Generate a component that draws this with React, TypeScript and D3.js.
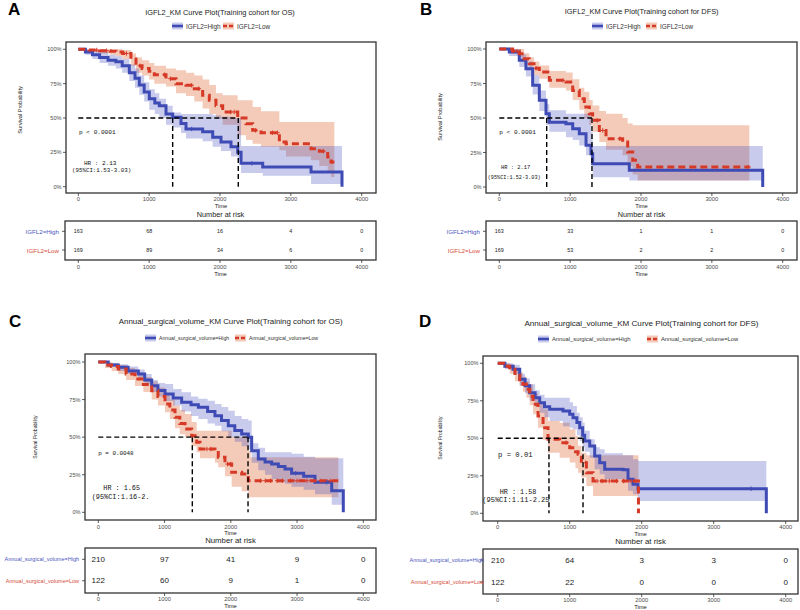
import React from "react";
import * as d3 from "d3";

type Row = [number, number, number, number]; // time, surv %, lower %, upper %

// ---------- Panel A: IGFL2 OS ----------
const A_HIGH: Row[] = [
  [0, 100, 100, 100], [100, 98, 96, 100], [200, 96, 93, 99], [300, 94, 90, 98],
  [420, 92, 88, 96], [530, 91, 86, 95], [620, 88, 83, 93], [720, 83, 77, 89],
  [800, 79, 72, 86], [861, 74, 67, 81], [930, 69, 62, 76], [1002, 64, 56, 71],
  [1080, 61, 53, 68], [1143, 59, 50, 64], [1238, 53, 45, 59], [1332, 50.5, 43, 54],
  [1449, 46, 39, 53], [1520, 42, 35, 53], [1755, 40, 33, 53], [1897, 36, 29, 52],
  [2014, 32.5, 26, 51], [2155, 29, 22, 50], [2250, 25, 19, 50], [2297, 17, 10, 29.6],
  [2603, 14.3, 8, 29.6], [3285, 10.7, 2, 29.6], [3722, 0, 2, 29.6],
];
const A_LOW: Row[] = [
  [0, 100, 100, 100], [150, 99.5, 98, 100], [300, 99, 97, 100], [450, 98.5, 96, 100],
  [532, 98, 95, 100], [626, 97, 93, 99.5], [743, 93, 88, 97], [814, 88, 83, 94],
  [900, 86, 81, 92], [1000, 84, 78, 90], [1073, 81.5, 75, 88], [1238, 78.6, 73, 86],
  [1379, 75, 68, 84.7], [1520, 73.8, 66, 83], [1637, 71.3, 62, 81], [1755, 66.5, 57, 78],
  [1849, 62.9, 53, 74], [1943, 59, 49.5, 68], [2038, 54.4, 45, 66.5], [2250, 50, 37.4, 63],
  [2367, 45.9, 34, 63], [2461, 41, 31.3, 58], [2579, 39.3, 29, 55], [2838, 32.5, 26.5, 47],
  [2932, 31.3, 22, 47], [3285, 27.7, 19.2, 47], [3402, 25.8, 15, 47], [3520, 21.6, 10, 47],
  [3567, 18, 7, 47], [3614, 18, 7, 47],
];
const A_HIGH_CENSOR: number[] = [1600, 2450];
const A_LOW_CENSOR: number[] = [260, 400, 680, 870, 1220, 1300, 1600, 1700, 2150, 2200, 2500, 2740, 2810, 3460, 3580];
const A_RISK_HIGH = [163, 68, 16, 4, 0];
const A_RISK_LOW = [169, 89, 34, 6, 0];
const A_MEDIANS = [1332, 2258];

// ---------- Panel B: IGFL2 DFS ----------
const B_HIGH: Row[] = [
  [0, 100, 100, 100], [141, 97.8, 95, 100], [282, 91.8, 87, 96], [376, 85.7, 80, 91],
  [471, 73.7, 67, 81], [565, 62.8, 55, 70], [659, 53, 45, 60], [706, 47, 40, 55.6],
  [941, 45.9, 36, 53], [1036, 42.3, 34, 53], [1129, 38.6, 30, 53], [1224, 30.2, 23, 53],
  [1294, 24.1, 16, 40], [1318, 16.9, 7, 29.7], [1835, 12.1, 4.8, 29.7], [3718, 0, 4.8, 29.7],
];
const B_LOW: Row[] = [
  [0, 100, 100, 100], [188, 98.5, 97, 100], [282, 96.6, 94, 100], [350, 93, 89, 97],
  [423, 89.3, 85, 94], [490, 86, 81, 91], [565, 83.3, 78.5, 88], [706, 77.3, 72, 84],
  [941, 76, 70, 83], [1036, 70, 63, 78], [1129, 64, 56, 72], [1200, 58, 50, 69],
  [1271, 53, 45, 63], [1318, 48.3, 40, 59], [1412, 41, 32.6, 55], [1506, 35, 27, 53],
  [1741, 32.6, 23, 50], [1812, 25.4, 15, 46], [1883, 19.3, 9, 44.7], [1953, 14.5, 4.8, 44.7],
  [3529, 14.5, 4.8, 44.7],
];
const B_HIGH_CENSOR: number[] = [];
const B_LOW_CENSOR: number[] = [200, 250, 520, 900, 1380, 1460, 1700, 3520];
const B_RISK_HIGH = [163, 33, 1, 1, 0];
const B_RISK_LOW = [169, 53, 2, 2, 0];
const B_MEDIANS = [669, 1308];

// ---------- Panel C: Annual surgical volume OS ----------
const C_HIGH: Row[] = [
  [0, 100, 100, 100], [150, 98, 97, 99.5], [302, 96.5, 94, 98.5], [450, 94, 92, 97],
  [604, 92, 89, 95], [700, 88, 85, 92], [806, 84.2, 80, 88], [900, 81, 77, 86],
  [1007, 78.7, 74, 85.4], [1130, 76, 71, 82], [1258, 73.2, 67, 79.8], [1400, 71.5, 64, 77],
  [1510, 69.9, 62, 75.5], [1650, 67, 59, 74.3], [1761, 64.3, 57.6, 72], [1860, 61, 54, 70],
  [1962, 57.6, 50, 67.6], [2060, 54.5, 47, 64], [2164, 52.1, 44, 62], [2264, 49.9, 42, 61],
  [2315, 41, 33, 46], [2415, 35.5, 28, 43], [2517, 33.5, 25, 40], [2617, 32.1, 22, 40],
  [2718, 30.5, 20, 40], [2818, 28.8, 19, 40], [2918, 26, 17, 39], [3100, 24, 15, 37],
  [3271, 20, 12, 36], [3523, 14.4, 5, 36], [3698, 0, 5, 36],
];
const C_LOW: Row[] = [
  [0, 100, 100, 100], [100, 98, 96, 100], [200, 97, 94, 99], [302, 95.3, 92, 98],
  [420, 92, 88, 96], [554, 88.7, 84, 93], [680, 85, 80, 90], [806, 80.9, 75, 87],
  [900, 77, 71, 83], [1007, 72, 66.5, 78.7], [1080, 68, 62, 75], [1158, 63.2, 56, 71],
  [1230, 59, 52, 68], [1309, 55.4, 49.9, 65.4], [1409, 51, 44, 60], [1485, 46.6, 40, 54.3],
  [1535, 42.1, 36, 54.3], [1761, 41, 33, 54.3], [1811, 36.6, 29.9, 54.3], [1912, 32.1, 24, 54.3],
  [2013, 26.6, 17, 50], [2164, 25.5, 14, 50], [2264, 21, 10, 41], [2300, 21, 10, 36.6],
  [3623, 21, 10, 36.6],
];
const C_HIGH_CENSOR: number[] = [2980, 3450];
const C_LOW_CENSOR: number[] = [1640, 1700, 1950, 2000, 2450, 2520, 2600, 2700, 2780, 2900, 3000, 3150, 3350, 3500];
const C_RISK_HIGH = [210, 97, 41, 9, 0];
const C_RISK_LOW = [122, 60, 9, 1, 0];
const C_MEDIANS = [1419, 2260];

// ---------- Panel D: Annual surgical volume DFS ----------
const D_HIGH: Row[] = [
  [0, 100, 100, 100], [100, 98, 96, 100], [213, 96, 93, 99], [306, 89.3, 85, 93],
  [380, 85, 80, 90], [444, 80.4, 75, 86], [520, 77, 71, 82], [583, 73.7, 67, 79],
  [650, 71, 64, 77], [722, 69.3, 61.5, 77], [907, 68.2, 58, 77], [1000, 66, 57, 74],
  [1046, 63.7, 56, 71.5], [1100, 60.5, 52, 67], [1139, 57, 48, 64], [1180, 52, 44, 60.4],
  [1208, 48.2, 41, 55], [1278, 44.9, 37, 49.3], [1347, 38.2, 29.3, 44], [1417, 33.7, 26, 42.7],
  [1486, 29.3, 22.7, 40], [1740, 29, 22.7, 38.7], [1810, 22.7, 15, 38.7], [1880, 19.3, 12.7, 36],
  [1949, 16.4, 8.2, 34.9], [3731, 0, 8.2, 34.9],
];
const D_LOW: Row[] = [
  [0, 100, 100, 100], [80, 98, 97, 100], [167, 96, 93, 99], [240, 92, 88, 96],
  [306, 89, 85, 94], [350, 86, 81, 91], [398, 82.7, 77, 88], [445, 78, 72, 86],
  [491, 72.7, 66, 80], [560, 64.9, 57, 73], [630, 57, 49, 69.3], [699, 49.3, 40.4, 61.5],
  [861, 47.1, 37, 60.4], [1000, 43.7, 33.8, 56], [1080, 41, 30, 51.5], [1116, 39.3, 27, 45],
  [1162, 33.7, 24, 40.4], [1232, 27, 18.2, 38.7], [1324, 21.5, 11.5, 38.7], [1955, 0, 11.5, 38.7],
];
const D_HIGH_CENSOR: number[] = [3520];
const D_LOW_CENSOR: number[] = [950, 1220, 1380, 1450, 1550, 1650, 1750, 1850, 1920];
const D_RISK_HIGH = [210, 64, 3, 3, 0];
const D_RISK_LOW = [122, 22, 0, 0, 0];
const D_MEDIANS = [712, 1185];

const TIME_TICKS = [0, 1000, 2000, 3000, 4000];
const SURV_TICKS = [0, 25, 50, 75, 100];
const SURV_LABELS = ["0%", "25%", "50%", "75%", "100%"];

const BLUE = "#3F4BB5";
const RED = "#D63A27";
const BLUE_FILL = "#4A52C0";
const RED_FILL = "#E47A50";
const SANS = "'Liberation Sans', Arial, sans-serif";
const MONO = "'Liberation Mono', 'DejaVu Sans Mono', monospace";

type Layout = {
  id: string;
  letter: string; letterX: number; letterY: number;
  title: string; titleX: number; titleY: number; titleSize: number;
  legY: number; legSize: number; legBlueX: number; legRedX: number;
  box: [number, number, number, number]; // x0,y0,x1,y1
  xr: [number, number]; yr: [number, number];
  xTickY: number; xTimeY: number;
  yTitleX: number; yTitleY: number; yTitleSize: number;
  ann: { text: string; x: number; y: number; size: number }[];
  rbox: [number, number, number, number];
  rowY: [number, number]; rLabelSize: number; rNumSize: number; rLabelX: number;
  rTitleY: number; rTitleSize: number; rTickY: number; rTimeY: number;
};

function survAt(rows: Row[], t: number) {
  let s = rows[0][1];
  for (const r of rows) { if (r[0] <= t) s = r[1]; }
  return s;
}

function Panel(props: {
  L: Layout; groupHigh: string; groupLow: string;
  high: Row[]; low: Row[]; cHigh: number[]; cLow: number[];
  rHigh: number[]; rLow: number[]; medians: number[];
}) {
  const { L, high, low } = props;
  const x = d3.scaleLinear().domain([0, 4000]).range(L.xr);
  const y = d3.scaleLinear().domain([0, 100]).range(L.yr);
  const line = d3.line<Row>().x(d => x(d[0])).y(d => y(d[1])).curve(d3.curveStepAfter);
  const area = d3.area<Row>().x(d => x(d[0])).y0(d => y(d[2])).y1(d => y(d[3])).curve(d3.curveStepAfter);
  const [bx0, by0, bx1, by1] = L.box;
  const [rx0, ry0, rx1, ry1] = L.rbox;
  const clipId = "clip" + L.id;
  const y50 = y(50);
  const tickCol = "#4D4D4D";
  const censor = (rows: Row[], ts: number[], col: string) =>
    ts.map((t, i) => {
      const cx = x(t), cy = y(survAt(rows, t));
      return (
        <g key={i} stroke={col} strokeWidth={1}>
          <line x1={cx - 2.2} x2={cx + 2.2} y1={cy} y2={cy} />
          <line x1={cx} x2={cx} y1={cy - 2.2} y2={cy + 2.2} />
        </g>
      );
    });
  const legKey = (kx: number, fill: string, op: number, col: string, dash?: string) => (
    <g>
      <rect x={kx} y={L.legY - 3.5} width={11} height={7} fill={fill} opacity={op} />
      <line x1={kx} x2={kx + 11} y1={L.legY} y2={L.legY} stroke={col} strokeWidth={2.6} strokeDasharray={dash} />
    </g>
  );
  return (
    <g>
      <text x={L.letterX} y={L.letterY} fontFamily={SANS} fontWeight="bold" fontSize={17} fill="#000">{L.letter}</text>
      <text x={L.titleX} y={L.titleY} textAnchor="middle" dominantBaseline="central" fontFamily={SANS} fontSize={L.titleSize} fill="#222">{L.title}</text>
      {legKey(L.legBlueX, BLUE_FILL, 0.3, BLUE)}
      <text x={L.legBlueX + 14} y={L.legY} dominantBaseline="central" fontFamily={SANS} fontSize={L.legSize} fill="#333">{props.groupHigh}</text>
      {legKey(L.legRedX, RED_FILL, 0.4, RED, "4,2")}
      <text x={L.legRedX + 14} y={L.legY} dominantBaseline="central" fontFamily={SANS} fontSize={L.legSize} fill="#333">{props.groupLow}</text>

      <defs>
        <clipPath id={clipId}><rect x={bx0} y={by0} width={bx1 - bx0} height={by1 - by0} /></clipPath>
      </defs>
      <g clipPath={`url(#${clipId})`}>
        <path d={area(low) || ""} fill={RED_FILL} opacity={0.4} />
        <path d={area(high) || ""} fill={BLUE_FILL} opacity={0.3} />
        <path d={line(high) || ""} fill="none" stroke={BLUE} strokeWidth={3} />
        <path d={line(low) || ""} fill="none" stroke={RED} strokeWidth={3} strokeDasharray="7,4" />
        {censor(high, props.cHigh, BLUE)}
        {censor(low, props.cLow, RED)}
        <line x1={x(0)} x2={x(props.medians[1])} y1={y50} y2={y50} stroke="#000" strokeWidth={1.4} strokeDasharray="5,3" />
        {props.medians.map((m, i) => (
          <line key={i} x1={x(m)} x2={x(m)} y1={y50} y2={y(0)} stroke="#000" strokeWidth={1.4} strokeDasharray="5,3" />
        ))}
        {L.ann.map((a, i) => (
          <text key={i} x={a.x} y={a.y} dominantBaseline="central" fontFamily={MONO} fontSize={a.size} fill="#111">{a.text}</text>
        ))}
      </g>
      <rect x={bx0} y={by0} width={bx1 - bx0} height={by1 - by0} fill="none" stroke="#333" strokeWidth={1.3} />
      {SURV_TICKS.map((v, i) => (
        <g key={i}>
          <line x1={bx0 - 3} x2={bx0} y1={y(v)} y2={y(v)} stroke="#333" strokeWidth={0.8} />
          <text x={bx0 - 4.5} y={y(v)} textAnchor="end" dominantBaseline="central" fontFamily={SANS} fontSize={5.6} fill={tickCol}>{SURV_LABELS[i]}</text>
        </g>
      ))}
      {TIME_TICKS.map((t, i) => (
        <g key={i}>
          <line x1={x(t)} x2={x(t)} y1={by1} y2={by1 + 3} stroke="#333" strokeWidth={0.8} />
          <text x={x(t)} y={L.xTickY} textAnchor="middle" dominantBaseline="central" fontFamily={SANS} fontSize={5.8} fill={tickCol}>{t}</text>
        </g>
      ))}
      <text x={(bx0 + bx1) / 2} y={L.xTimeY} textAnchor="middle" dominantBaseline="central" fontFamily={SANS} fontSize={5.8} fill="#222">Time</text>
      <text transform={`translate(${L.yTitleX},${L.yTitleY}) rotate(-90)`} textAnchor="middle" dominantBaseline="central" fontFamily={SANS} fontSize={L.yTitleSize} fill="#222">Survival Probability</text>

      {/* risk table */}
      <text x={(rx0 + rx1) / 2} y={L.rTitleY} textAnchor="middle" dominantBaseline="central" fontFamily={SANS} fontSize={L.rTitleSize} fill="#222">Number at risk</text>
      <rect x={rx0} y={ry0} width={rx1 - rx0} height={ry1 - ry0} fill="none" stroke="#333" strokeWidth={1.3} />
      {[props.rHigh, props.rLow].map((arr, ri) => (
        <g key={ri}>
          <line x1={rx0 - 3} x2={rx0} y1={L.rowY[ri]} y2={L.rowY[ri]} stroke="#333" strokeWidth={0.8} />
          <text x={L.rLabelX} y={L.rowY[ri]} textAnchor="end" dominantBaseline="central" fontFamily={SANS} fontSize={L.rLabelSize} fill={ri === 0 ? "#4B55C0" : "#D64C3A"}>{ri === 0 ? props.groupHigh : props.groupLow}</text>
          {arr.map((n, i) => (
            <text key={i} x={x(TIME_TICKS[i])} y={L.rowY[ri]} textAnchor="middle" dominantBaseline="central" fontFamily={SANS} fontSize={L.rNumSize} fill="#222">{n}</text>
          ))}
        </g>
      ))}
      {TIME_TICKS.map((t, i) => (
        <g key={i}>
          <line x1={x(t)} x2={x(t)} y1={ry1} y2={ry1 + 3} stroke="#333" strokeWidth={0.8} />
          <text x={x(t)} y={L.rTickY} textAnchor="middle" dominantBaseline="central" fontFamily={SANS} fontSize={5.8} fill={tickCol}>{t}</text>
        </g>
      ))}
      <text x={(rx0 + rx1) / 2} y={L.rTimeY} textAnchor="middle" dominantBaseline="central" fontFamily={SANS} fontSize={5.8} fill="#222">Time</text>
    </g>
  );
}

const LA: Layout = {
  id: "A", letter: "A", letterX: 8, letterY: 15,
  title: "IGFL2_KM Curve Plot(Training cohort for OS)", titleX: 220, titleY: 12, titleSize: 7.4,
  legY: 26, legSize: 6.4, legBlueX: 172, legRedX: 223,
  box: [66, 42, 376, 193], xr: [78.3, 361.7], yr: [186.7, 49.3],
  xTickY: 199.3, xTimeY: 206, yTitleX: 20, yTitleY: 110, yTitleSize: 5.6,
  ann: [
    { text: "p < 0.0001", x: 79, y: 132, size: 6.1 },
    { text: "HR : 2.13", x: 84, y: 163.7, size: 6 },
    { text: "(95%CI:1.53-3.03)", x: 72, y: 170.5, size: 5.8 },
  ],
  rbox: [65, 221, 376, 260], rowY: [231.3, 250], rLabelSize: 6.2, rNumSize: 5.4, rLabelX: 59,
  rTitleY: 214, rTitleSize: 7.3, rTickY: 266.7, rTimeY: 274,
};
const LB: Layout = {
  id: "B", letter: "B", letterX: 420, letterY: 15,
  title: "IGFL2_KM Curve Plot(Training cohort for DFS)", titleX: 641.7, titleY: 11, titleSize: 7.4,
  legY: 26, legSize: 6.4, legBlueX: 592, legRedX: 646,
  box: [486, 42, 797, 193], xr: [499.3, 782.7], yr: [187, 49],
  xTickY: 199.3, xTimeY: 206, yTitleX: 440, yTitleY: 117, yTitleSize: 5.6,
  ann: [
    { text: "p < 0.0001", x: 499.3, y: 132, size: 6.1 },
    { text: "HR : 2.17", x: 501, y: 168, size: 5.4 },
    { text: "(95%CI:1.52-3.03)", x: 487.7, y: 178, size: 5.2 },
  ],
  rbox: [486, 221, 797, 260], rowY: [231.3, 250], rLabelSize: 6.2, rNumSize: 5.4, rLabelX: 480,
  rTitleY: 214, rTitleSize: 7.3, rTickY: 266.7, rTimeY: 274,
};
const LC: Layout = {
  id: "C", letter: "C", letterX: 9, letterY: 327,
  title: "Annual_surgical_volume_KM Curve Plot(Training cohort for OS)", titleX: 230.7, titleY: 321.7, titleSize: 7.9,
  legY: 338, legSize: 5.2, legBlueX: 145, legRedX: 235,
  box: [85, 354, 376, 520], xr: [98.3, 363.3], yr: [512.3, 362],
  xTickY: 526.7, xTimeY: 533, yTitleX: 35, yTitleY: 437, yTitleSize: 5.1,
  ann: [
    { text: "p = 0.0048", x: 98.3, y: 453, size: 5.9 },
    { text: "HR : 1.65", x: 103.3, y: 488.3, size: 6.8 },
    { text: "(95%CI:1.16-2.", x: 91.7, y: 497.3, size: 6.9 },
  ],
  rbox: [85, 548, 376, 593], rowY: [559.3, 580.7], rLabelSize: 5.5, rNumSize: 8, rLabelX: 79,
  rTitleY: 540.7, rTitleSize: 7.8, rTickY: 599.3, rTimeY: 606,
};
const LD: Layout = {
  id: "D", letter: "D", letterX: 419, letterY: 327,
  title: "Annual_surgical_volume_KM Curve Plot(Training cohort for DFS)", titleX: 641.5, titleY: 323, titleSize: 8.1,
  legY: 339, legSize: 5.8, legBlueX: 538, legRedX: 647,
  box: [483, 356, 798, 521], xr: [497.7, 785.7], yr: [513.3, 363.3],
  xTickY: 526.7, xTimeY: 534, yTitleX: 440, yTitleY: 438, yTitleSize: 5.1,
  ann: [
    { text: "p = 0.01", x: 498, y: 455, size: 7.2 },
    { text: "HR : 1.58", x: 499.7, y: 491.7, size: 6.8 },
    { text: "(95%CI:1.11-2.25", x: 482.3, y: 500, size: 7 },
  ],
  rbox: [483, 549, 798, 594], rowY: [560, 582], rLabelSize: 5.5, rNumSize: 8, rLabelX: 484,
  rTitleY: 541.5, rTitleSize: 7.8, rTickY: 600, rTimeY: 607,
};

export default function App() {
  return (
    <svg width={800} height={610} style={{ position: "absolute", left: 0, top: 0, background: "#fff" }}>
      <rect x={0} y={0} width={800} height={610} fill="#fff" />
      <Panel L={LA} groupHigh="IGFL2=High" groupLow="IGFL2=Low" high={A_HIGH} low={A_LOW}
        cHigh={A_HIGH_CENSOR} cLow={A_LOW_CENSOR} rHigh={A_RISK_HIGH} rLow={A_RISK_LOW} medians={A_MEDIANS} />
      <Panel L={LB} groupHigh="IGFL2=High" groupLow="IGFL2=Low" high={B_HIGH} low={B_LOW}
        cHigh={B_HIGH_CENSOR} cLow={B_LOW_CENSOR} rHigh={B_RISK_HIGH} rLow={B_RISK_LOW} medians={B_MEDIANS} />
      <Panel L={LC} groupHigh="Annual_surgical_volume=High" groupLow="Annual_surgical_volume=Low" high={C_HIGH} low={C_LOW}
        cHigh={C_HIGH_CENSOR} cLow={C_LOW_CENSOR} rHigh={C_RISK_HIGH} rLow={C_RISK_LOW} medians={C_MEDIANS} />
      <Panel L={LD} groupHigh="Annual_surgical_volume=High" groupLow="Annual_surgical_volume=Low" high={D_HIGH} low={D_LOW}
        cHigh={D_HIGH_CENSOR} cLow={D_LOW_CENSOR} rHigh={D_RISK_HIGH} rLow={D_RISK_LOW} medians={D_MEDIANS} />
    </svg>
  );
}
